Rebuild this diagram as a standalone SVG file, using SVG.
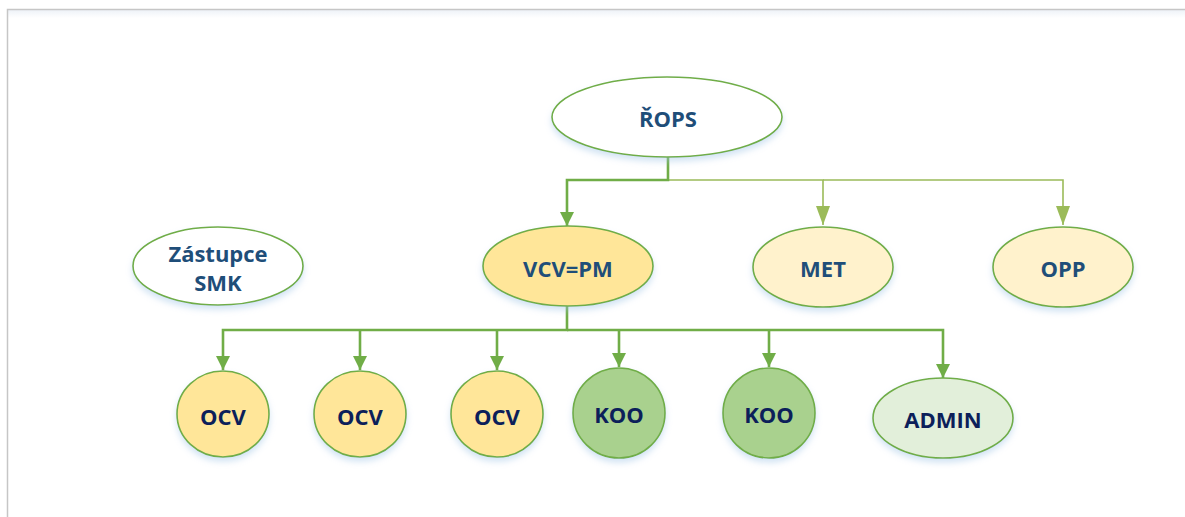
<svg xmlns="http://www.w3.org/2000/svg" width="1185" height="517" viewBox="0 0 1185 517">
  <defs>
    <style>
      .node { stroke: #70ad47; stroke-width: 1.6; filter: url(#glow); }
      .lbl { font-family: "Open Sans", "Liberation Sans", sans-serif; font-weight: bold; text-anchor: middle; dominant-baseline: central; }
      .top { fill: #1f4e79; font-size: 22px; }
      .low { fill: #0c1f5a; font-size: 22px; }
      .dark { fill: none; stroke: #70ad47; stroke-width: 2.6; }
      .light { fill: none; stroke: #9bbb59; stroke-width: 1.6; }
    </style>
    <filter id="glow" x="-20%" y="-20%" width="140%" height="150%">
      <feDropShadow dx="0" dy="4" stdDeviation="3" flood-color="#9dc3e6" flood-opacity="0.45"/>
    </filter>
    <linearGradient id="band" x1="0" y1="0" x2="0" y2="1">
      <stop offset="0" stop-color="#eef2f8"/>
      <stop offset="1" stop-color="#ffffff"/>
    </linearGradient>
    <marker id="arrDark" viewBox="0 0 14 14" markerWidth="14" markerHeight="14" refX="14" refY="7" orient="auto" markerUnits="userSpaceOnUse">
      <path d="M0,0 L14,7 L0,14 Z" fill="#70ad47"/>
    </marker>
    <marker id="arrLight" viewBox="0 0 19 14" markerWidth="19" markerHeight="14" refX="19" refY="7" orient="auto" markerUnits="userSpaceOnUse">
      <path d="M0,0 L19,7 L0,14 Z" fill="#9bbb59"/>
    </marker>
  </defs>

  <!-- page frame -->
  <rect x="0" y="0" width="1185" height="517" fill="#ffffff"/>
  <rect x="8" y="10" width="1177" height="8" fill="url(#band)"/>
  <path d="M7.5 517 V9.5 H1185" fill="none" stroke="#c6c6c6" stroke-width="1.5"/>

  <!-- connectors -->
  <g id="connectors">
    <path class="light" d="M668 157 V180 H823 V225" marker-end="url(#arrLight)"/>
    <path class="light" d="M823 180 H1063 V225" marker-end="url(#arrLight)"/>
    <path class="dark" d="M668 157 V180 H567 V226" marker-end="url(#arrDark)"/>
    <path class="dark" d="M567 306 V330 H223 V370" marker-end="url(#arrDark)"/>
    <path class="dark" d="M360 330 V370" marker-end="url(#arrDark)"/>
    <path class="dark" d="M497 330 V370" marker-end="url(#arrDark)"/>
    <path class="dark" d="M567 330 H943 V378" marker-end="url(#arrDark)"/>
    <path class="dark" d="M619 330 V367" marker-end="url(#arrDark)"/>
    <path class="dark" d="M769 330 V367" marker-end="url(#arrDark)"/>
  </g>

  <!-- nodes -->
  <g id="rops">
    <ellipse class="node" cx="667" cy="117" rx="115" ry="40" fill="#ffffff"/>
    <text class="lbl top" x="668" y="118">ŘOPS</text>
  </g>
  <g id="zastupce-smk">
    <ellipse class="node" cx="218" cy="266" rx="85" ry="39" fill="#ffffff"/>
    <text class="lbl top" x="218" y="253">Zástupce</text>
    <text class="lbl top" x="218" y="282">SMK</text>
  </g>
  <g id="vcv-pm">
    <ellipse class="node" cx="568" cy="266" rx="85" ry="40" fill="#ffe699"/>
    <text class="lbl top" x="568" y="268">VCV=PM</text>
  </g>
  <g id="met">
    <ellipse class="node" cx="823" cy="267" rx="70" ry="40" fill="#fff2cc"/>
    <text class="lbl top" x="823" y="268">MET</text>
  </g>
  <g id="opp">
    <ellipse class="node" cx="1063" cy="267" rx="70" ry="40" fill="#fff2cc"/>
    <text class="lbl top" x="1063" y="268">OPP</text>
  </g>
  <g id="ocv-1">
    <ellipse class="node" cx="223" cy="414" rx="46" ry="43" fill="#ffe699"/>
    <text class="lbl low" x="223" y="416">OCV</text>
  </g>
  <g id="ocv-2">
    <ellipse class="node" cx="360" cy="414" rx="46" ry="43" fill="#ffe699"/>
    <text class="lbl low" x="360" y="416">OCV</text>
  </g>
  <g id="ocv-3">
    <ellipse class="node" cx="497" cy="414" rx="46" ry="43" fill="#ffe699"/>
    <text class="lbl low" x="497" y="416">OCV</text>
  </g>
  <g id="koo-1">
    <ellipse class="node" cx="619" cy="413" rx="46" ry="45" fill="#a9d18e"/>
    <text class="lbl low" x="619" y="414">KOO</text>
  </g>
  <g id="koo-2">
    <ellipse class="node" cx="769" cy="413" rx="46" ry="45" fill="#a9d18e"/>
    <text class="lbl low" x="769" y="414">KOO</text>
  </g>
  <g id="admin">
    <ellipse class="node" cx="943" cy="418" rx="70" ry="40" fill="#e2efda"/>
    <text class="lbl low" x="943" y="419">ADMIN</text>
  </g>
</svg>
